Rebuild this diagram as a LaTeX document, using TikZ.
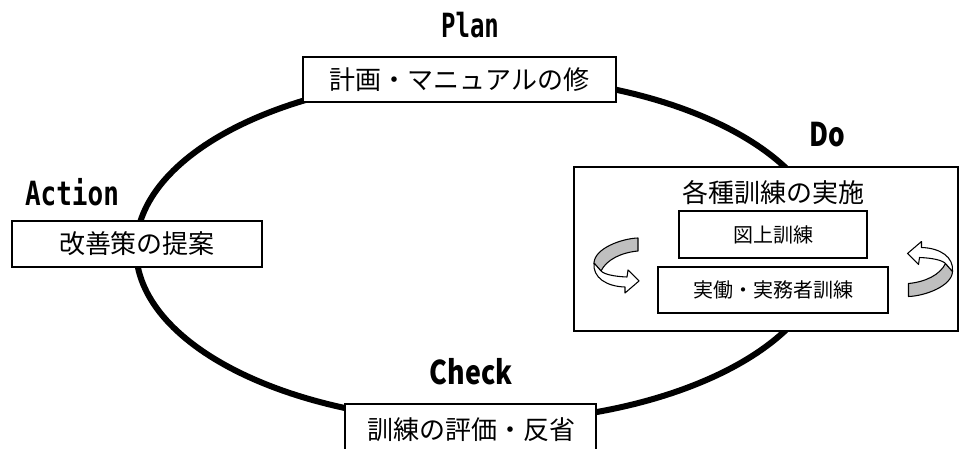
\documentclass[tikz,border=0pt]{standalone}
\usepackage{graphicx}
\usepackage{fontspec}
\newfontfamily\jp{Noto Sans CJK JP}
\newfontfamily\mono{DejaVu Sans Mono}
\begin{document}
\begin{tikzpicture}[x=0.75pt,y=-0.75pt,
  box/.style={draw,line width=1.1pt,fill=white,inner sep=0pt,font=\jp\fontsize{19.5}{20}\selectfont},
  sbox/.style={box,font=\jp\fontsize{15}{16}\selectfont},
  plbl/.style={inner sep=0pt,font=\mono\bfseries\fontsize{25}{26}\selectfont},
  clbl/.style={inner sep=0pt,font=\jp\bfseries\fontsize{24.5}{26}\selectfont},
  rotarrow/.style={draw,line width=0.8pt,line join=round}]
\clip (0,0) rectangle (961,449);
\fill[white] (0,0) rectangle (961,449);
% cycle
\draw[line width=4.5pt] (481,249) ellipse [x radius=345, y radius=173];
% boxes
\node[box,minimum width=313*0.75pt,minimum height=45*0.75pt] (plan) at (459.5,79.5) {計画・マニュアルの修};
\node[box,minimum width=250*0.75pt,minimum height=46*0.75pt] (action) at (137,244) {改善策の提案};
\node[box,minimum width=251*0.75pt,minimum height=52*0.75pt] (check) at (470.5,430) {};
\node[inner sep=0pt,font=\jp\fontsize{19.5}{20}\selectfont] (checktext) at (471,430) {訓練の評価・反省};
\node[box,minimum width=384*0.75pt,minimum height=164*0.75pt] (do) at (766,249) {};
\node[inner sep=0pt,font=\jp\fontsize{19.5}{20}\selectfont] (dotitle) at (773,193) {各種訓練の実施};
\node[sbox,minimum width=188*0.75pt,minimum height=47*0.75pt] (zujo) at (773,234.5) {図上訓練};
\node[sbox,minimum width=230*0.75pt,minimum height=46*0.75pt] (jitsu) at (773,290) {実働・実務者訓練};
% labels
\node[plbl] (planlbl) at (470,25) {\scalebox{0.72}[1]{Plan}};
\node[plbl] (actionlbl) at (72,192) {\scalebox{0.78}[1]{Action}};
\node[clbl] (dolbl) at (827,135) {\scalebox{0.8}[1]{Do}};
\node[clbl] (checklbl) at (471,372) {\scalebox{0.82}[1]{Check}};
% rotating arrows
\foreach \cx/\cy/\ang in {616.5/265.5/0, 930/269/180}{
\begin{scope}[shift={(\cx,\cy)},rotate=\ang]
  \path[rotarrow,fill=gray!50] (21.5,-27.5) .. controls (5,-27) and (-22,-17) .. (-22.5,-2.5)
     -- (-15.5,5.5) .. controls (-10,-6) and (5,-13) .. (21.5,-14.5) -- cycle;
  \path[rotarrow,fill=white] (-22.5,-2.5) .. controls (-24,12) and (-10,21) .. (8.5,21.5)
     -- (8.5,27.5) -- (22.5,15.5) -- (11.5,4.5) -- (10.5,11.5)
     .. controls (-2,11) and (-12,9) .. (-15.5,5.5) -- cycle;
\end{scope}}
\end{tikzpicture}
\end{document}
